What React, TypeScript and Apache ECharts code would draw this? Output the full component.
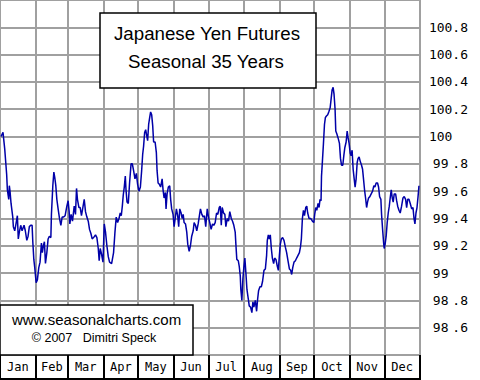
import React, { useEffect, useRef } from "react";
import * as echarts from "echarts";

const monthNames = ["Jan", "Feb", "Mar", "Apr", "May", "Jun", "Jul", "Aug", "Sep", "Oct", "Nov", "Dec"];
const monthBounds = [0, 31, 59, 90, 120, 151, 181, 212, 243, 273, 304, 334, 365];

const days = [
  0.9, 2.6, 4.1, 5.0, 5.8, 6.4, 7.6, 8.1, 8.7, 9.6, 10.5, 11.1, 11.6, 12.8, 13.9, 15.1, 15.9, 16.8, 18.0, 19.2,
  20.9, 22.0, 23.3, 24.4, 25.5, 26.7, 27.9, 28.5, 29.4, 30.2, 31.4, 32.5, 33.7, 34.8, 36.0, 36.8, 37.7, 38.6, 39.5, 40.7,
  41.8, 42.9, 44.2, 44.7, 45.9, 46.8, 47.6, 48.5, 49.4, 50.5, 51.7, 52.9, 54.0, 55.1, 56.6, 58.1, 59.2, 60.1, 60.7, 61.8,
  63.0, 64.5, 65.6, 66.5, 67.3, 68.6, 69.7, 70.8, 72.0, 73.2, 74.3, 75.5, 76.7, 77.8, 79.0, 80.1, 81.3, 83.0, 84.2, 85.4,
  86.2, 87.1, 88.2, 89.5, 90.6, 91.7, 92.9, 94.1, 95.2, 97.0, 98.7, 99.9, 101.0, 102.2, 103.4, 104.5, 105.4, 106.3, 107.1, 108.0,
  108.9, 109.5, 110.4, 111.5, 112.6, 113.9, 115.0, 116.1, 117.3, 118.5, 119.6, 120.8, 122.0, 123.1, 124.0, 124.8, 125.7, 126.6, 127.4, 128.3,
  129.2, 130.1, 130.9, 131.8, 132.7, 133.5, 134.8, 135.9, 136.5, 137.4, 138.5, 139.6, 140.9, 141.7, 142.6, 143.7, 144.3, 145.2, 146.3, 147.5,
  148.3, 149.2, 150.4, 151.3, 152.4, 153.3, 154.4, 155.3, 156.2, 157.4, 158.3, 159.2, 160.0, 161.2, 162.3, 163.2, 164.4, 165.5, 166.6, 167.9,
  168.7, 169.9, 171.0, 172.2, 173.3, 174.2, 175.4, 176.6, 177.7, 178.8, 180.1, 181.2, 182.3, 183.5, 184.7, 185.8, 187.0, 188.2, 189.3, 190.5,
  191.4, 192.3, 193.1, 194.3, 195.4, 196.3, 197.5, 198.6, 199.7, 201.0, 202.1, 203.2, 204.4, 205.0, 205.8, 207.1, 207.9, 208.8, 209.3, 210.2,
  211.1, 211.9, 212.8, 213.7, 214.6, 215.8, 216.6, 217.8, 218.9, 219.8, 220.6, 221.9, 223.0, 223.9, 224.7, 225.9, 227.1, 228.2, 229.4, 230.6,
  231.7, 232.3, 233.2, 234.1, 234.9, 235.8, 236.7, 237.8, 238.7, 239.8, 241.0, 241.9, 242.8, 243.6, 244.5, 245.6, 246.8, 248.0, 249.1, 250.3,
  251.5, 252.6, 253.5, 254.4, 255.5, 256.7, 257.8, 259.0, 260.2, 261.1, 261.9, 262.8, 263.7, 264.6, 265.7, 266.6, 267.4, 268.6, 270.0, 271.5,
  272.7, 273.5, 274.4, 275.3, 276.4, 277.3, 278.1, 279.0, 279.4, 280.2, 281.1, 282.0, 282.8, 283.7, 284.8, 285.7, 286.9, 287.7, 288.6, 289.5,
  290.3, 291.2, 291.8, 292.7, 293.8, 295.0, 295.9, 296.8, 297.9, 298.8, 299.7, 300.8, 301.7, 302.5, 303.4, 304.3, 305.1, 306.0, 306.9, 307.8,
  308.6, 309.5, 310.4, 311.2, 312.1, 313.0, 314.2, 315.1, 315.9, 316.8, 317.7, 318.6, 319.4, 320.3, 321.4, 322.6, 323.8, 324.9, 325.8, 326.9,
  328.1, 329.0, 329.9, 331.0, 331.6, 332.5, 333.4, 333.9, 334.8, 335.6, 336.5, 337.4, 338.3, 339.1, 340.0, 340.9, 341.7, 342.6, 343.8, 344.7,
  345.6, 346.7, 347.8, 349.0, 350.2, 351.3, 352.5, 353.4, 354.3, 355.4, 356.5, 357.8, 358.9, 359.8, 360.6, 361.5, 362.4, 363.3, 364.1,
];

const values = [
  100.0, 100.03, 99.91, 99.81, 99.72, 99.61, 99.54, 99.64, 99.6, 99.51, 99.45, 99.41, 99.34, 99.31, 99.36, 99.42, 99.25, 99.3, 99.35, 99.31,
  99.35, 99.31, 99.24, 99.27, 99.34, 99.35, 99.35, 99.23, 99.1, 99.04, 98.93, 98.95, 99.04, 99.08, 99.22, 99.15, 99.2, 99.23, 99.07, 99.15,
  99.25, 99.27, 99.26, 99.43, 99.64, 99.74, 99.7, 99.64, 99.54, 99.47, 99.4, 99.35, 99.41, 99.41, 99.42, 99.49, 99.53, 99.45, 99.36, 99.43,
  99.38, 99.49, 99.43, 99.62, 99.54, 99.48, 99.48, 99.42, 99.48, 99.54, 99.45, 99.41, 99.38, 99.32, 99.29, 99.25, 99.26, 99.28, 99.26, 99.18,
  99.09, 99.18, 99.14, 99.08, 99.36, 99.3, 99.2, 99.12, 99.08, 99.07, 99.15, 99.3, 99.41, 99.37, 99.4, 99.44, 99.42, 99.49, 99.57, 99.63,
  99.71, 99.61, 99.52, 99.51, 99.66, 99.8, 99.8, 99.75, 99.69, 99.73, 99.65, 99.6, 99.63, 99.75, 99.87, 99.93, 100.03, 100.05, 100.01, 99.97,
  100.09, 100.14, 100.18, 100.16, 100.08, 99.96, 99.96, 99.88, 99.75, 99.66, 99.65, 99.63, 99.69, 99.61, 99.55, 99.59, 99.47, 99.58, 99.63, 99.64,
  99.54, 99.47, 99.43, 99.34, 99.41, 99.47, 99.42, 99.34, 99.47, 99.44, 99.4, 99.43, 99.37, 99.36, 99.3, 99.21, 99.16, 99.2, 99.27, 99.31,
  99.37, 99.35, 99.31, 99.36, 99.42, 99.47, 99.43, 99.41, 99.42, 99.34, 99.47, 99.41, 99.37, 99.32, 99.36, 99.35, 99.37, 99.44, 99.43, 99.48,
  99.49, 99.35, 99.48, 99.44, 99.43, 99.34, 99.4, 99.38, 99.45, 99.4, 99.38, 99.35, 99.3, 99.21, 99.1, 99.09, 99.05, 98.98, 98.88, 98.8,
  98.96, 99.04, 99.11, 99.0, 98.88, 98.81, 98.76, 98.75, 98.71, 98.79, 98.75, 98.8, 98.72, 98.81, 98.87, 98.9, 98.9, 98.94, 99.02, 99.03,
  99.13, 99.24, 99.28, 99.25, 99.28, 99.18, 99.11, 99.07, 99.11, 99.1, 99.05, 99.02, 99.13, 99.21, 99.25, 99.26, 99.24, 99.19, 99.15, 99.09,
  99.03, 99.02, 98.99, 99.04, 99.08, 99.09, 99.11, 99.13, 99.15, 99.19, 99.25, 99.4, 99.46, 99.42, 99.48, 99.49, 99.44, 99.4, 99.4, 99.38,
  99.37, 99.43, 99.48, 99.46, 99.51, 99.48, 99.54, 99.53, 99.71, 99.82, 99.95, 100.09, 100.14, 100.15, 100.16, 100.18, 100.21, 100.27, 100.34, 100.36,
  100.31, 100.2, 100.04, 100.02, 99.99, 99.95, 99.84, 99.79, 99.79, 99.86, 99.92, 99.96, 100.04, 99.99, 99.95, 99.88, 99.86, 99.9, 99.76, 99.69,
  99.63, 99.69, 99.81, 99.84, 99.85, 99.82, 99.79, 99.76, 99.69, 99.61, 99.55, 99.48, 99.52, 99.55, 99.56, 99.58, 99.6, 99.64, 99.63, 99.66,
  99.66, 99.63, 99.56, 99.54, 99.43, 99.32, 99.22, 99.18, 99.22, 99.27, 99.37, 99.44, 99.49, 99.55, 99.61, 99.55, 99.52, 99.58, 99.58, 99.53,
  99.49, 99.46, 99.44, 99.49, 99.55, 99.56, 99.54, 99.48, 99.54, 99.54, 99.51, 99.47, 99.48, 99.4, 99.36, 99.44, 99.48, 99.56, 99.64,
];

const yTicks = { min: 98.4, max: 101.0, step: 0.2 };
const titleLines = ["Japanese Yen Futures", "Seasonal 35 Years"];
const creditLines = ["www.seasonalcharts.com", "© 2007", "Dimitri Speck"];

export default function App() {
  const ref = useRef<HTMLDivElement>(null);
  useEffect(() => {
    document.body.style.margin = "0";
    const chart = echarts.init(ref.current!, null, { renderer: "svg" });
    const mids = monthBounds.slice(0, 12).map((d, i) => (d + monthBounds[i + 1]) / 2);
    const mono = "'DejaVu Sans Mono', monospace";
    const sans = "'Liberation Sans', Arial, sans-serif";
    chart.setOption({
      animation: false,
      backgroundColor: "#fff",
      grid: [
        { left: 0, top: 0, width: 420, height: 355, show: true, borderColor: "#000", borderWidth: 2, backgroundColor: "#fff" },
        { left: 0, top: 355, width: 420, height: 24, show: true, borderColor: "#000", borderWidth: 2, backgroundColor: "transparent" },
      ],
      xAxis: [
        {
          type: "value",
          gridIndex: 0,
          min: 0,
          max: 365,
          axisLine: { show: false },
          splitLine: { show: true, lineStyle: { color: "#a0a0a0", width: 2 } },
          axisTick: { show: true, customValues: monthBounds, length: 24, inside: false, lineStyle: { color: "#000", width: 2 } },
          axisLabel: {
            customValues: mids,
            margin: 12,
            verticalAlign: "middle",
            fontFamily: mono,
            fontSize: 12,
            color: "#000",
            formatter: (v: number) => {
              let idx = 0;
              for (let i = 0; i < 12; i++) if (v >= monthBounds[i] && v < monthBounds[i + 1]) idx = i;
              return monthNames[idx];
            },
          },
        },
        { type: "value", gridIndex: 1, min: 0, max: 365, show: false },
      ],
      yAxis: [
        {
          type: "value",
          gridIndex: 0,
          position: "right",
          min: yTicks.min,
          max: yTicks.max,
          interval: yTicks.step,
          axisLine: { show: false },
          axisTick: { show: false },
          splitLine: { show: true, lineStyle: { color: "#a0a0a0", width: 2 } },
          axisLabel: {
            showMinLabel: false,
            showMaxLabel: false,
            margin: 9,
            align: "left",
            formatter: (v: number) => {
              const s = String(Math.round(v * 10) / 10);
              const parts = s.split(".");
              return parts[1] ? `{i|${parts[0]}}{d|.${parts[1]}}` : `{i|${parts[0]}}{d| }`;
            },
            rich: {
              i: { width: 23.4, align: "right", fontFamily: mono, fontSize: 13, color: "#000" },
              d: { width: 15.6, align: "left", fontFamily: mono, fontSize: 13, color: "#000" },
            },
          },
        },
        { type: "value", gridIndex: 1, show: false },
      ],
      series: [
        {
          type: "line",
          xAxisIndex: 0,
          yAxisIndex: 0,
          data: days.map((d, i) => [d, values[i]]),
          showSymbol: false,
          symbol: "none",
          lineStyle: { color: "#0000a8", width: 1.5 },
          z: 3,
        },
      ],
      graphic: [
        {
          type: "rect",
          z: 100,
          shape: { x: 100, y: 13, width: 216, height: 75 },
          style: { fill: "#fff", stroke: "#000", lineWidth: 1.5 },
        },
        {
          type: "text",
          z: 101,
          x: 207,
          y: 33.5,
          style: { text: titleLines[0], font: `18.7px ${sans}`, fill: "#000", textAlign: "center", textVerticalAlign: "middle" },
        },
        {
          type: "text",
          z: 101,
          x: 206,
          y: 61,
          style: { text: titleLines[1], font: `18.7px ${sans}`, fill: "#000", textAlign: "center", textVerticalAlign: "middle" },
        },
        {
          type: "rect",
          z: 100,
          shape: { x: 0, y: 305, width: 193, height: 50 },
          style: { fill: "#fff", stroke: "#000", lineWidth: 1.5 },
        },
        {
          type: "text",
          z: 101,
          x: 96.5,
          y: 319.5,
          style: { text: creditLines[0], font: `15px ${sans}`, fill: "#000", textAlign: "center", textVerticalAlign: "middle" },
        },
        {
          type: "text",
          z: 101,
          x: 52,
          y: 338,
          style: { text: creditLines[1], font: `12.5px ${sans}`, fill: "#000", textAlign: "center", textVerticalAlign: "middle" },
        },
        {
          type: "text",
          z: 101,
          x: 119.5,
          y: 338,
          style: { text: creditLines[2], font: `12.5px ${sans}`, fill: "#000", textAlign: "center", textVerticalAlign: "middle" },
        },
      ],
    });
    return () => chart.dispose();
  }, []);
  return <div ref={ref} style={{ width: 480, height: 380 }} />;
}
